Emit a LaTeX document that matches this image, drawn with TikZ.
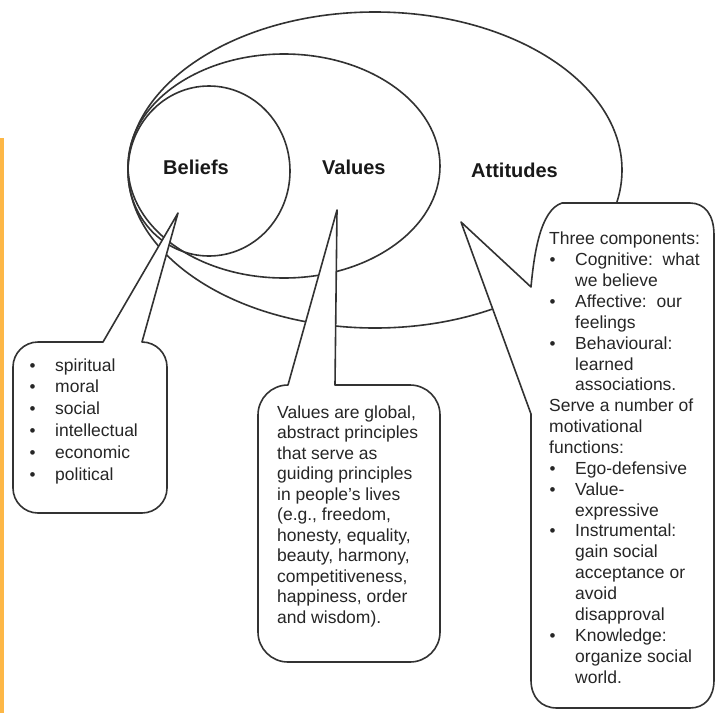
\documentclass[tikz,border=0pt]{standalone}
\usepackage{fontspec}
\setmainfont{Liberation Sans}
\definecolor{barorange}{RGB}{253,183,70}
\definecolor{inkgray}{RGB}{50,50,50}
\newcommand\mybul{\makebox[26pt][l]{\hspace{0.5pt}{\fontsize{17}{17}\selectfont •}}}
\newcommand\myind{\makebox[26pt]{}}
\begin{document}
\begin{tikzpicture}[x=1pt,y=-1pt,
  outline/.style={draw=inkgray,line width=1.6pt},
  bubble/.style={outline,fill=white,line join=round},
  title/.style={inner sep=0pt,anchor=base west,text=black!90,font=\fontsize{20}{24}\bfseries\selectfont},
  body/.style={inner sep=0pt,anchor=base west,align=left,text=black!85}]
\useasboundingbox (0,0) rectangle (716,713);
\fill[white] (0,0) rectangle (716,713);
\fill[barorange] (0,138) rectangle (3.5,713);
% nested ellipses
\draw[outline] (375,170) ellipse [x radius=247pt, y radius=158pt];
\draw[outline] (284,166) ellipse [x radius=156pt, y radius=112pt];
\draw[outline] (209,171) ellipse [x radius=81pt, y radius=85pt];
% titles
\node[title] (beliefs) at (163,174) {Beliefs};
\node[title] (values) at (322,174) {Values};
\node[title] (attitudes) at (471,177) {Attitudes};
% callout tips
\coordinate (tipB) at (178,213);
\coordinate (tipV) at (337,210);
\coordinate (tipA) at (461,222);
% beliefs callout
\draw[bubble] (103,342) -- (tipB) -- (142,342)
  .. controls (155.8,342) and (167,353.2) .. (167,367)
  -- (167,488)
  .. controls (167,501.8) and (155.8,513) .. (142,513)
  -- (38,513)
  .. controls (24.2,513) and (13,501.8) .. (13,488)
  -- (13,367)
  .. controls (13,353.2) and (24.2,342) .. (38,342)
  -- cycle;
% values callout
\draw[bubble] (335,385) -- (tipV) -- (288,385)
  .. controls (271.4,385) and (258,398.4) .. (258,415)
  -- (258,632)
  .. controls (258,648.6) and (271.4,662) .. (288,662)
  -- (410,662)
  .. controls (426.6,662) and (440,648.6) .. (440,632)
  -- (440,415)
  .. controls (440,398.4) and (426.6,385) .. (410,385)
  -- cycle;
% attitudes callout
\draw[bubble] (531,414) -- (tipA) -- (531,287)
  .. controls (534,255) and (540,210) .. (562,203)
  -- (690,203)
  .. controls (705,203) and (714,215) .. (714,235)
  -- (714,680)
  .. controls (714,697) and (705,708) .. (690,708)
  -- (557,708)
  .. controls (541,708) and (531,697) .. (531,680)
  -- cycle;
% texts (anchored at the baseline of the last line)
\node[body,font=\fontsize{17.5}{21.8}\selectfont] (btext) at (29,480)
 {\mybul spiritual\\ \mybul moral\\ \mybul social\\ \mybul intellectual\\ \mybul economic\\ \mybul political};
\node[body,font=\fontsize{17.5}{20.5}\selectfont] (vtext) at (277,623)
 {Values are global,\\ abstract principles\\ that serve as\\ guiding principles\\ in people's lives\\ (e.g., freedom,\\ honesty, equality,\\ beauty, harmony,\\ competitiveness,\\ happiness, order\\ and wisdom).};
\node[body,font=\fontsize{17.5}{20.86}\selectfont] (atext) at (549,683)
 {Three components:\\
  \mybul Cognitive:\ \ what\\
  \myind we believe\\
  \mybul Affective:\ \ our\\
  \myind feelings\\
  \mybul Behavioural:\\
  \myind learned\\
  \myind associations.\\
  Serve a number of\\
  motivational\\
  functions:\\
  \mybul Ego-defensive\\
  \mybul Value-\\
  \myind expressive\\
  \mybul Instrumental:\\
  \myind gain social\\
  \myind acceptance or\\
  \myind avoid\\
  \myind disapproval\\
  \mybul Knowledge:\\
  \myind organize social\\
  \myind world.};
\end{tikzpicture}
\end{document}
